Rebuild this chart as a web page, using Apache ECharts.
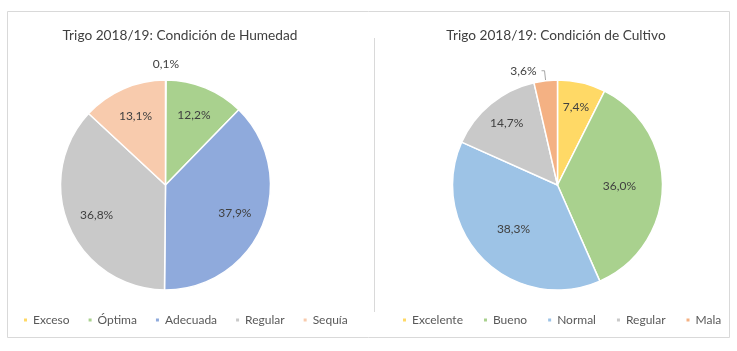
<!DOCTYPE html>
<html>
<head>
<meta charset="utf-8">
<script src="https://cdn.jsdelivr.net/npm/echarts@6/dist/echarts.min.js"></script>
<style>
  html, body { margin: 0; padding: 0; background: #fff; }
  #chart { width: 737px; height: 351px; }
</style>
</head>
<body>
<div id="chart"></div>
<script>
const humedadCats = ['Exceso', 'Óptima', 'Adecuada', 'Regular', 'Sequía'];
const humedadValues = [0.1, 12.2, 37.9, 36.8, 13.1];
const humedadColors = ['#ffd966', '#a9d18e', '#8faadc', '#c9c9c9', '#f8cbad'];

const cultivoCats = ['Excelente', 'Bueno', 'Normal', 'Regular', 'Mala'];
const cultivoValues = [7.4, 36.0, 38.3, 14.7, 3.6];
const cultivoColors = ['#ffd966', '#a9d18e', '#9dc3e6', '#c9c9c9', '#f4b183'];

const FONT = 'Lato, sans-serif';
const R = 105;
const leftCenter = [165.5, 185];
const rightCenter = [557.5, 185];

const fmt = v => v.toFixed(1).replace('.', ',') + '%';

// visible pie slices
function mainSeries(cats, vals, colors, center, outsideIdx) {
  return {
    type: 'pie',
    center: center,
    radius: [0, R],
    startAngle: 90,
    avoidLabelOverlap: false,
    itemStyle: { borderColor: '#fff', borderWidth: 1.5 },
    emphasis: { disabled: true },
    label: { show: false },
    labelLine: { show: false },
    data: cats.map((c, i) => {
      const item = { name: c, value: vals[i], itemStyle: { color: colors[i] } };
      if (i === outsideIdx) {
        item.label = {
          show: true, position: 'outside', formatter: p => fmt(p.value),
          fontFamily: FONT, fontSize: 12, color: '#404040'
        };
        item.labelLine = { show: true, length: 10, length2: 3, lineStyle: { color: '#a6a6a6', width: 1 } };
      }
      return item;
    })
  };
}

// transparent ring, only used to place the percentage labels
function labelRing(cats, vals, center, radius, showIdx) {
  return {
    type: 'pie',
    center: center,
    radius: radius,
    startAngle: 90,
    silent: true,
    avoidLabelOverlap: false,
    itemStyle: { color: 'rgba(0,0,0,0)' },
    labelLine: { show: false },
    data: cats.map((c, i) => ({
      name: c,
      value: vals[i],
      label: {
        show: showIdx.indexOf(i) >= 0,
        position: 'inside',
        formatter: p => fmt(p.value),
        fontFamily: FONT, fontSize: 12, color: '#404040'
      }
    }))
  };
}

const legendStyle = {
  top: 314, padding: 0, icon: 'rect', itemWidth: 5, itemHeight: 5,
  selectedMode: false, textStyle: { fontFamily: FONT, fontSize: 12, color: '#595959' }
};

const chart = echarts.init(document.getElementById('chart'));

chart.setOption({
  animation: false,
  backgroundColor: '#fff',
  title: [
    { text: 'Trigo 2018/19: Condición de Humedad', left: 175, top: 24, textAlign: 'center',
      textStyle: { fontFamily: FONT, fontSize: 13.7, fontWeight: 'normal', color: '#404040' } },
    { text: 'Trigo 2018/19: Condición de Cultivo', left: 551, top: 24, textAlign: 'center',
      textStyle: { fontFamily: FONT, fontSize: 13.7, fontWeight: 'normal', color: '#404040' } }
  ],
  legend: [
    Object.assign({ data: humedadCats, left: 22, itemGap: 17 }, legendStyle),
    Object.assign({ data: cultivoCats, left: 401, itemGap: 19 }, legendStyle)
  ],
  graphic: [
    { type: 'rect', shape: { x: 7.5, y: 11.5, width: 722, height: 326 },
      style: { fill: 'none', stroke: '#d9d9d9', lineWidth: 1 }, silent: true },
    { type: 'line', shape: { x1: 374.5, y1: 38, x2: 374.5, y2: 312 },
      style: { stroke: '#d9d9d9', lineWidth: 1 }, silent: true }
  ],
  series: [
    mainSeries(humedadCats, humedadValues, humedadColors, leftCenter, -1),
    mainSeries(cultivoCats, cultivoValues, cultivoColors, rightCenter, 4),
    labelRing(humedadCats, humedadValues, leftCenter, [39, R], [1, 2, 3, 4]),
    labelRing(humedadCats, humedadValues, leftCenter, [R + 3, R + 23], [0]),
    labelRing(cultivoCats, cultivoValues, rightCenter, [13, R], [1, 2]),
    labelRing(cultivoCats, cultivoValues, rightCenter, [49, R], [0, 3])
  ]
});
</script>
</body>
</html>
